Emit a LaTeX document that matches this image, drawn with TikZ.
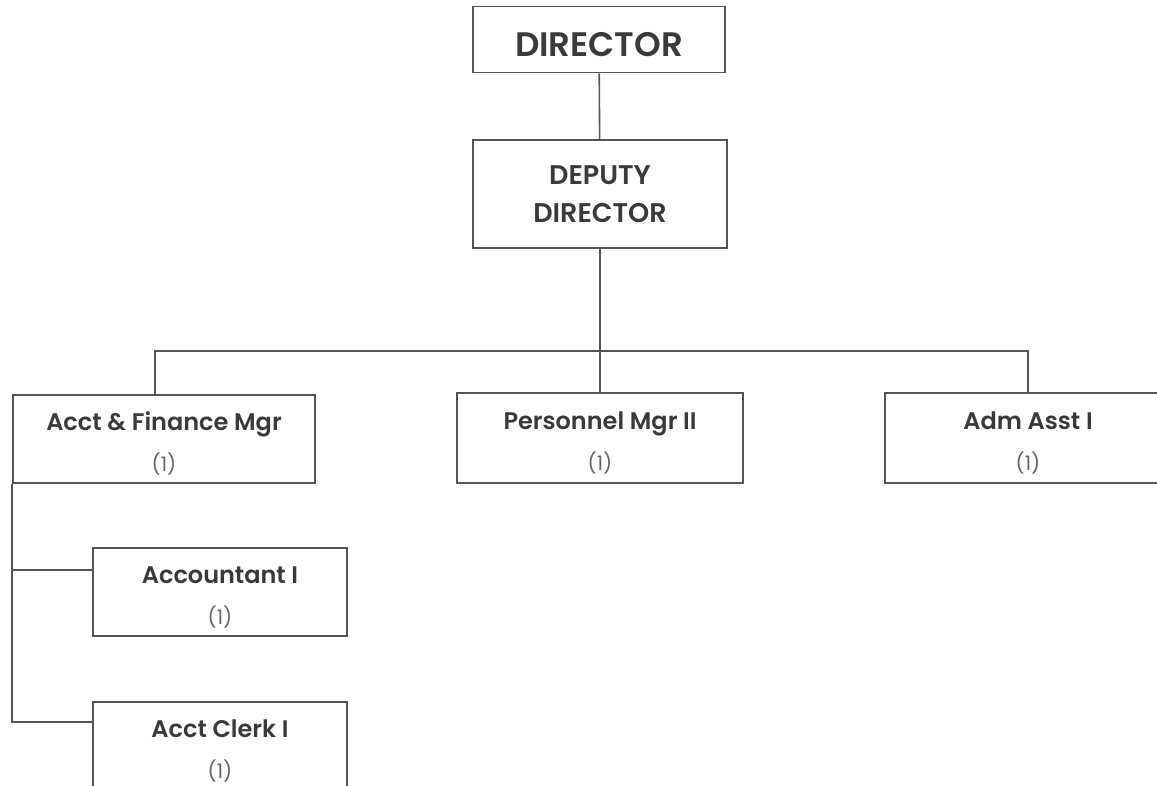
\documentclass[tikz,border=0pt]{standalone}
\usepackage{fontspec}
\setmainfont{Poppins}[BoldFont={Poppins SemiBold}]
\begin{document}
\begin{tikzpicture}[x=1pt,y=-1pt,
  link/.style={draw=linegray, line width=1.6pt},
  box/.style={draw=linegray, line width=1.6pt, rectangle, inner sep=0pt,
    align=center, text=textgray},
  toptitle/.style={font=\bfseries\fontsize{34}{38}\selectfont},
  midtitle/.style={font=\bfseries\fontsize{27}{38}\selectfont},
]
\definecolor{linegray}{HTML}{555555}
\definecolor{textgray}{HTML}{3A3A3A}
\definecolor{countgray}{HTML}{666666}
% job title over its head count, with struts fixing the baselines
\newcommand{\post}[1]{{\bfseries\fontsize{24}{20}\selectfont\rule[-7pt]{0pt}{37pt}#1}\\[8pt]
  {\color{countgray}\fontsize{20}{20}\selectfont\rule[-6pt]{0pt}{31pt}(1)}}
\useasboundingbox (0,0) rectangle (1157,786);
\fill[white] (0,0) rectangle (1157,786);
\clip (0,0) rectangle (1157,786);

% top of the chart
\node[box, toptitle, minimum width=252pt, minimum height=66pt] (director) at (599,39.5) {\rule{0pt}{34pt}DIRECTOR};
\node[box, midtitle, minimum width=254pt, minimum height=108pt] (deputy) at (600,194) {DEPUTY\\DIRECTOR};

% managers
\node[box, minimum width=302pt, minimum height=88pt] (acct) at (164,439) {\post{Acct \& Finance Mgr}};
\node[box, minimum width=286pt, minimum height=90pt] (pers) at (600,438) {\post{Personnel Mgr II}};
\node[box, minimum width=286pt, minimum height=90pt] (adm) at (1028,438) {\post{Adm Asst I}};

% accounting staff
\node[box, minimum width=254pt, minimum height=88pt] (accnt) at (220,592) {\post{Accountant I}};
\node[box, minimum width=254pt, minimum height=88pt] (clerk) at (220,746) {\post{Acct Clerk I}};

% connectors
\coordinate (bus) at (600,351);
\draw[link] (director) -- (deputy);
\draw[link] (deputy.south) -- (bus);
\draw[link] ([xshift=-9pt]acct.north) |- (bus) -| (adm.north);
\draw[link] (bus) -- (pers.north);
\draw[link] (acct.south west) |- ([yshift=-23pt]accnt.north west);
\draw[link] (acct.south west) |- ([yshift=-21pt]clerk.north west);
\end{tikzpicture}
\end{document}
